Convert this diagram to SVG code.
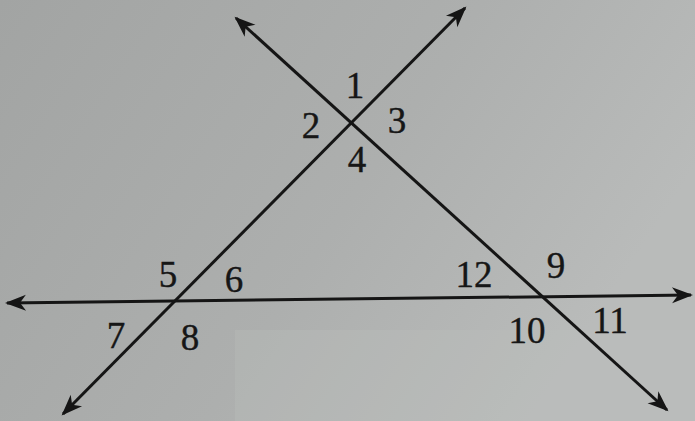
<svg xmlns="http://www.w3.org/2000/svg" width="695" height="421" viewBox="0 0 695 421">
  <defs>
    <linearGradient id="paper" x1="0" y1="0" x2="1" y2="0.4">
      <stop offset="0" stop-color="#a2a4a3"/>
      <stop offset="0.6" stop-color="#adafae"/>
      <stop offset="1" stop-color="#b9bbba"/>
    </linearGradient>
    <marker id="arrow" markerUnits="userSpaceOnUse" markerWidth="30" markerHeight="30" viewBox="-25 -15 30 30" refX="0" refY="0" orient="auto-start-reverse">
      <path d="M2,0 L-19,-8 L-13,0 L-19,8 Z" fill="#151515"/>
    </marker>
    <style>
      .ln { stroke: #151515; stroke-width: 3; fill: none; marker-start: url(#arrow); marker-end: url(#arrow); }
      .lb { font-family: "Liberation Serif", "Times New Roman", serif; font-size: 37px; fill: #161616; text-anchor: middle; stroke: #161616; stroke-width: 0.4; }
    </style>
  </defs>
  <rect width="695" height="421" fill="url(#paper)"/>
  <rect x="235" y="330" width="460" height="91" fill="#bdbfbe" opacity="0.3"/>
  <g id="lines">
    <line class="ln" x1="63" y1="414" x2="465" y2="8"/>
    <line class="ln" x1="236" y1="18" x2="667" y2="410"/>
    <line class="ln" x1="7" y1="303" x2="691" y2="295"/>
  </g>
  <g id="labels">
    <text class="lb" x="355" y="98">1</text>
    <text class="lb" x="311" y="138">2</text>
    <text class="lb" x="397" y="133">3</text>
    <text class="lb" x="357" y="172">4</text>
    <text class="lb" x="168" y="287">5</text>
    <text class="lb" x="234" y="292">6</text>
    <text class="lb" x="116" y="348">7</text>
    <text class="lb" x="190" y="350">8</text>
    <text class="lb" x="474" y="287">12</text>
    <text class="lb" x="556" y="278">9</text>
    <text class="lb" x="527" y="343">10</text>
    <text class="lb" x="610" y="333">11</text>
  </g>
</svg>
